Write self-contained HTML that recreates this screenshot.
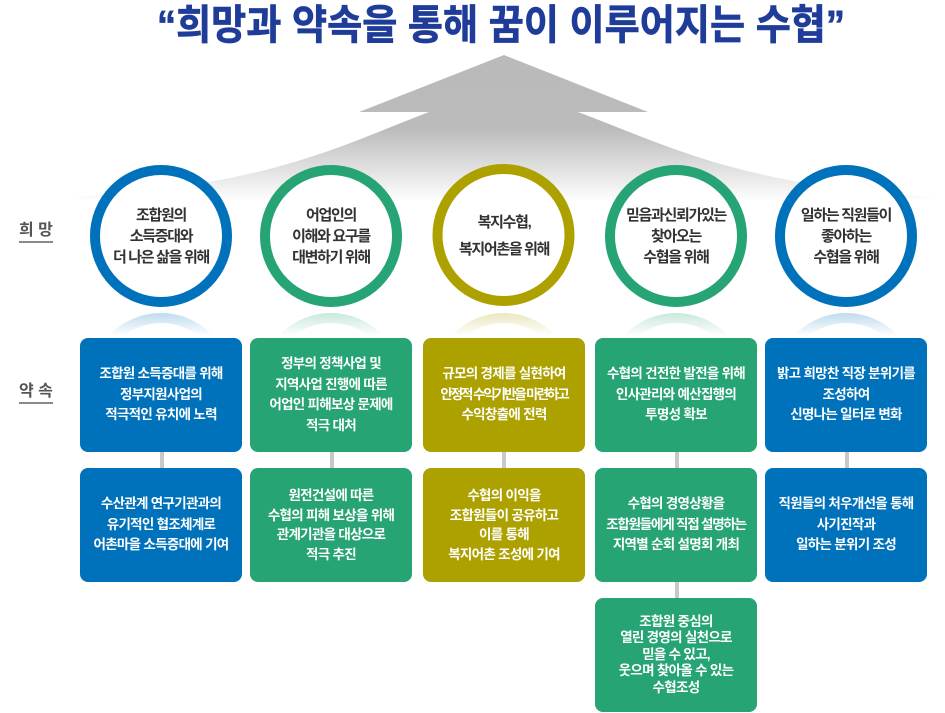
<!DOCTYPE html>
<html><head><meta charset="utf-8">
<style>
*{margin:0;padding:0;box-sizing:border-box}
html,body{width:945px;height:713px;background:#fff;overflow:hidden}
body{position:relative;font-family:"Liberation Sans","Noto Sans CJK KR",sans-serif}
svg.bg{position:absolute;left:0;top:0}
.ct{position:absolute;top:196px;height:80px;width:140px;display:flex;align-items:center;justify-content:center;text-align:center;font-size:15px;font-weight:bold;letter-spacing:-1.3px;line-height:21px;color:#333;white-space:nowrap}
.box{position:absolute;width:162px;height:114px;border-radius:8px;display:flex;align-items:center;justify-content:center;text-align:center;color:#fff;font-weight:bold;font-size:13.5px;letter-spacing:-0.7px;line-height:20.5px;white-space:nowrap}
.b{background:#0072bc}.g{background:#26a474}.y{background:#ada100}
.r1{top:338px}.r2{top:468px}.r3{top:598px}
.c1{left:80px}.c2{left:250px}.c3{left:423px}.c4{left:595px}.c5{left:765px}
.lbl{position:absolute;left:19px;font-size:16px;font-weight:bold;color:#555;border-bottom:2px solid #8a8a8a;line-height:20px;height:22px}
.conn{position:absolute;width:4px;height:16px;background:#c8c8c8}
</style></head><body>
<svg class="bg" width="945" height="713" viewBox="0 0 945 713">
<defs>
<linearGradient id="ag" x1="0" y1="55" x2="0" y2="202" gradientUnits="userSpaceOnUse">
<stop offset="0" stop-color="#bababa"/>
<stop offset="0.5" stop-color="#bbbbbb"/>
<stop offset="0.72" stop-color="#d9d9d9"/>
<stop offset="0.88" stop-color="#efefef"/>
<stop offset="1" stop-color="#ffffff"/>
</linearGradient>
<linearGradient id="rg" x1="0" y1="313" x2="0" y2="336" gradientUnits="userSpaceOnUse">
<stop offset="0" stop-color="#fff" stop-opacity="0.25"/>
<stop offset="1" stop-color="#fff" stop-opacity="0"/>
</linearGradient>
<mask id="rm" maskUnits="userSpaceOnUse" x="0" y="300" width="945" height="50">
<rect x="0" y="300" width="945" height="50" fill="url(#rg)"/>
</mask>
</defs>
<text x="157" y="39" textLength="688" lengthAdjust="spacingAndGlyphs" font-family="'Liberation Sans','Noto Sans CJK KR',sans-serif" font-weight="bold" font-size="41" fill="#1f3c99" stroke="#1f3c99" stroke-width="0.7">“희망과 약속을 통해 꿈이 이루어지는 수협”</text>
<path d="M504,55 L648,112 L578,112 C640,135 700,165 800,182 C850,189 890,193 930,197 L930,206 L78,206 L78,197 C118,193 158,189 208,182 C308,165 368,135 429,112 L359,112 Z" fill="url(#ag)"/>
<g fill="#fff" stroke-width="10">
<circle cx="161" cy="236" r="66" stroke="#0072bc"/>
<circle cx="331" cy="236" r="66" stroke="#26a474"/>
<circle cx="503.5" cy="235" r="66" stroke="#ada100"/>
<circle cx="676" cy="236" r="66" stroke="#26a474"/>
<circle cx="846" cy="236" r="66" stroke="#0072bc"/>
</g>
<g mask="url(#rm)" fill="none" stroke-width="10">
<circle cx="161" cy="384" r="66" stroke="#0072bc"/>
<circle cx="331" cy="384" r="66" stroke="#26a474"/>
<circle cx="503.5" cy="384" r="66" stroke="#ada100"/>
<circle cx="676" cy="384" r="66" stroke="#26a474"/>
<circle cx="846" cy="384" r="66" stroke="#0072bc"/>
</g>
</svg>

<div class="lbl" style="top:221px">희 망</div>
<div class="lbl" style="top:382px">약 속</div>

<div class="ct" style="left:91px">조합원의<br>소득증대와<br>더 나은 삶을 위해</div>
<div class="ct" style="left:261px">어업인의<br>이해와 요구를<br>대변하기 위해</div>
<div class="ct" style="left:434px;line-height:27px">복지수협,<br>복지어촌을 위해</div>
<div class="ct" style="left:606px">믿음과신뢰가있는<br>찾아오는<br>수협을 위해</div>
<div class="ct" style="left:776px">일하는 직원들이<br>좋아하는<br>수협을 위해</div>

<div class="conn" style="left:160px;top:452px"></div>
<div class="conn" style="left:330px;top:452px"></div>
<div class="conn" style="left:502px;top:452px"></div>
<div class="conn" style="left:675px;top:452px"></div>
<div class="conn" style="left:845px;top:452px"></div>
<div class="conn" style="left:675px;top:582px"></div>

<div class="box b r1 c1"><div>조합원 소득증대를 위해<br>정부지원사업의<br>적극적인 유치에 노력</div></div>
<div class="box b r2 c1"><div>수산관계 연구기관과의<br>유기적인 협조체계로<br>어촌마을 소득증대에 기여</div></div>

<div class="box g r1 c2"><div>정부의 정책사업 및<br>지역사업 진행에 따른<br>어업인 피해보상 문제에<br>적극 대처</div></div>
<div class="box g r2 c2"><div style="line-height:19.5px">원전건설에 따른<br>수협의 피해 보상을 위해<br>관계기관을 대상으로<br>적극 추진</div></div>

<div class="box y r1 c3"><div>규모의 경제를 실현하여<br><span style="letter-spacing:-2.1px">안정적 수익기반을 마련하고</span><br>수익창출에 전력</div></div>
<div class="box y r2 c3"><div style="line-height:19.5px">수협의 이익을<br>조합원들이 공유하고<br>이를 통해<br>복지어촌 조성에 기여</div></div>

<div class="box g r1 c4"><div>수협의 건전한 발전을 위해<br>인사관리와 예산집행의<br>투명성 확보</div></div>
<div class="box g r2 c4"><div>수협의 경영상황을<br><span style="letter-spacing:-1.2px">조합원들에게 직접 설명하는</span><br>지역별 순회 설명회 개최</div></div>
<div class="box g r3 c4"><div style="line-height:16.5px">조합원 중심의<br>열린 경영의 실천으로<br>믿을 수 있고,<br>웃으며 찾아올 수 있는<br>수협조성</div></div>

<div class="box b r1 c5"><div>밝고 희망찬 직장 분위기를<br>조성하여<br>신명나는 일터로 변화</div></div>
<div class="box b r2 c5"><div>직원들의 처우개선을 통해<br>사기진작과<br>일하는 분위기 조성</div></div>
</body></html>
